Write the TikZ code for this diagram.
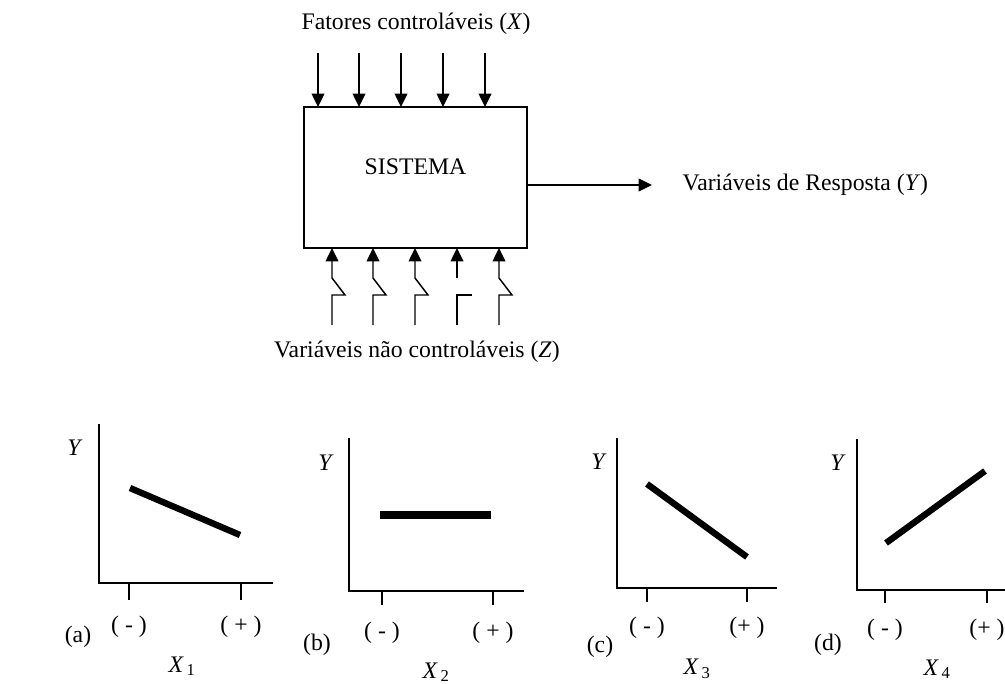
\documentclass[tikz,border=0pt]{standalone}
\usepackage{fontspec}
\setmainfont{Liberation Serif}
\usetikzlibrary{positioning,arrows.meta,calc}

\begin{document}
\begin{tikzpicture}[x=0.75pt, y=-0.75pt, font=\fontsize{17.8}{20}\selectfont,
  >={Triangle[length=10pt, width=9.5pt]}, line width=1.1pt,
  every node/.style={inner sep=0pt},
  sysbox/.style={draw, minimum width=167.25pt, minimum height=105.75pt, outer sep=0pt},
  axis/.style={line width=1.1pt},
  effect/.style={line width=4.8pt}]
\useasboundingbox (0,0) rectangle (1005,684);

% sistema
\node[sysbox] (sis) at (415.5,177.5) {};
\node (sislabel) at ([yshift=8.25pt]sis.center) {SISTEMA};

% fatores controlaveis
\node (fx) at (416,24) {Fatores controláveis (\textit{X})};
\foreach \i/\x in {1/318,2/359,3/401,4/443,5/485}{
  \coordinate (x\i) at (\x,53);
  \draw[->] (x\i) -- (sis.north -| x\i);
}

% variaveis nao controlaveis (chaves)
\foreach \i/\x in {1/332,2/373,3/415,5/499}{
  \coordinate (z\i) at (\x,325);
  \draw[->] (z\i) -- ++(0,-30) -- ++(13,0) -- ++(-13,-17) -- (sis.south -| z\i);
}
\coordinate (z4) at (457,325);
\draw (z4) -- ++(0,-30) -- ++(15,0);
\draw[->] ($(z4)+(0,-47)$) -- (sis.south -| z4);
\node (fz) at (417,352) {Variáveis não controláveis (\textit{Z})};

% resposta
\coordinate (resp) at (652,185);
\draw[->] (sis.east |- resp) -- (resp);
\node[right=22.5pt of resp] (ry) {Variáveis de Resposta (\textit{Y})};

% (a)
\draw[axis] (99,424) -- (99,583) -- (273,583);
\draw[axis] (129,583) -- (129,600) (241,583) -- (241,600);
\draw[effect] (130,488) -- (240,535);
\node (ya) at (75,448) {\textit{Y}};
\node (ma) at (129,627) {( - )};
\node (pa) at (241,627) {( + )};
\node (la) at (78,637) {(a)};
\node (xa) at (182,666) {\textit{X}\textsubscript{\,1}};

% (b)
\draw[axis] (349,438) -- (349,591) -- (524,591);
\draw[axis] (382,591) -- (382,605) (493,591) -- (493,605);
\draw[effect, line width=6pt] (380,515) -- (491,515);
\node (yb) at (326,463) {\textit{Y}};
\node (mb) at (382,633) {( - )};
\node (pb) at (493,633) {( + )};
\node (lb) at (317,645) {(b)};
\node (xb) at (436,672) {\textit{X}\textsubscript{\,2}};

% (c)
\draw[axis] (617,438) -- (617,588) -- (777,588);
\draw[axis] (647,588) -- (647,602) (747,588) -- (747,602);
\draw[effect] (647,484) -- (747,557);
\node (yc) at (599,462) {\textit{Y}};
\node (mc) at (647,628) {( - )};
\node (pc) at (747,628) {(+ )};
\node (lc) at (600,647) {(c)};
\node (xc) at (697,669) {\textit{X}\textsubscript{\,3}};

% (d)
\draw[axis] (857,439) -- (857,590) -- (1012,590);
\draw[axis] (885,590) -- (885,603) (987,590) -- (987,603);
\draw[effect] (886,543) -- (985,471);
\node (yd) at (838,463) {\textit{Y}};
\node (md) at (885,630) {( - )};
\node (pd) at (987,630) {(+ )};
\node (ld) at (828,645) {(d)};
\node (xd) at (937,669) {\textit{X}\textsubscript{\,4}};
\end{tikzpicture}
\end{document}
